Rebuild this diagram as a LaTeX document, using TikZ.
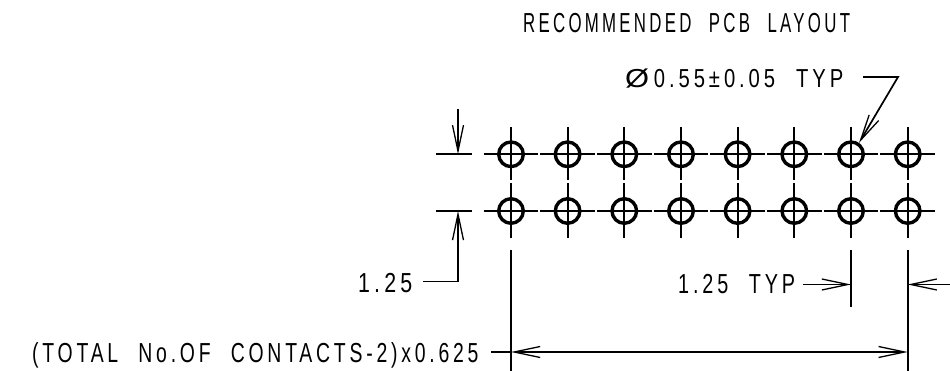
\documentclass[tikz,border=0pt]{standalone}
\usepackage{fontspec}
\usepackage{graphicx}
\usetikzlibrary{arrows.meta}
\setmainfont{Liberation Sans}
\newfontfamily\cad[FakeStretch=0.72,LetterSpace=14,WordSpace=2.2]{Liberation Sans}
\newfontfamily\cadwide[FakeStretch=1.1]{Liberation Sans}
\tikzset{
  hole/.style={circle,draw=black,line width=3.4pt,minimum size=24.6pt,inner sep=0pt},
  dimline/.style={draw=black,line width=1.7pt},
  axis/.style={draw=black,line width=1.8pt},
  dimarrow/.style={dimline,-{Straight Barb[length=26pt,width=11pt,line width=1.3pt]}},
  biarrow/.style={dimline,{Straight Barb[length=26pt,width=11pt,line width=1.3pt]}-{Straight Barb[length=26pt,width=11pt,line width=1.3pt]}},
  label/.style={anchor=base west,inner sep=0pt,font=\cad\fontsize{27.5}{27.5}\selectfont,text=black},
  smalllabel/.style={label,font=\cad\fontsize{26}{26}\selectfont},
}
\begin{document}
\begin{tikzpicture}[x=1pt,y=-1pt]
\useasboundingbox (0,0) rectangle (950,371);
\foreach \i/\x in {1/511,2/567.6,3/624.3,4/681,5/737.6,6/794.3,7/851,8/907.7}{
  \node[hole] (t\i) at (\x,154.3) {};
  \node[hole] (b\i) at (\x,211) {};
  \draw[axis] ([xshift=-27.3pt]t\i.center) -- ([xshift=27.3pt]t\i.center);
  \draw[axis] ([yshift=27.5pt]t\i.center) -- ([yshift=-26pt]t\i.center);
  \draw[axis] ([xshift=-27.3pt]b\i.center) -- ([xshift=27.3pt]b\i.center);
  \draw[axis] ([yshift=28pt]b\i.center) -- ([yshift=-27pt]b\i.center);
}
% text
\node[label] (title) at (523,33) {\scalebox{0.85}[1]{RECOMMENDED PCB LAYOUT}};
\node[smalllabel] (dia) at (625,88) {\scalebox{1.08}[1]{{\cadwide Ø}\,0.55±0.05 TYP}};
\node[label] (hgt) at (358,292) {\scalebox{1.08}[1]{1.25}};
\node[label] (typ) at (678,294) {1.25 TYP};
\node[label] (tot) at (32,362) {\scalebox{0.98}[1]{(TOTAL No.OF CONTACTS-2)x0.625}};
% named free ends
\coordinate (dbend) at (898,77);
\coordinate (dstart) at (863,77);
\coordinate (hs) at (423,281.5);
\coordinate (hb) at (458,281.5);
\coordinate (htop) at (458,109);
\coordinate (hu1) at (436,154.3);
\coordinate (hu2) at (472,154.3);
\coordinate (hl1) at (436,211);
\coordinate (hl2) at (472,211);
\coordinate (e1a) at (511,250);
\coordinate (e1b) at (511,371);
\coordinate (e2a) at (851,250);
\coordinate (e2b) at (851,307);
\coordinate (e3a) at (907.7,250);
\coordinate (e3b) at (907.7,371);
\coordinate (ta) at (803,284.5);
\coordinate (tb) at (950,284.5);
\coordinate (la) at (491,352);
% leaders
\draw[dimarrow] (dstart) -- (dbend) -- (t7.55);
\draw[dimarrow] (hs) -- (hb) -- (hl2 -| hb);
\draw[dimarrow] (htop) -- (hu2 -| htop);
\draw[dimline] (hu1) -- (hu2);
\draw[dimline] (hl1) -- (hl2);
\draw[dimline] (e1a) -- (e1b);
\draw[dimline] (e2a) -- (e2b);
\draw[dimline] (e3a) -- (e3b);
\draw[dimarrow] (ta) -- (ta -| e2a);
\draw[dimarrow] (tb) -- (tb -| e3a);
\draw[dimline] (la) -- (la -| e1a);
\draw[biarrow] (la -| e1a) -- (la -| e3a);
\end{tikzpicture}
\end{document}
